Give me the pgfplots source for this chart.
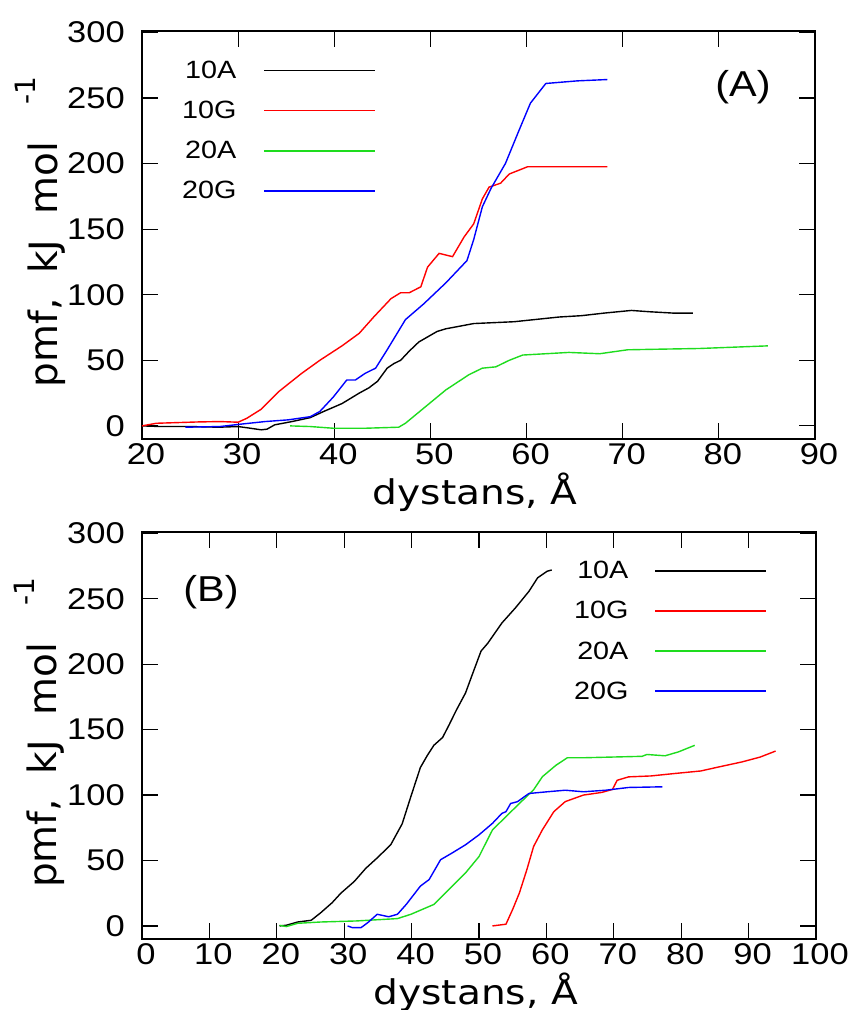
\documentclass[border=0pt]{standalone}
\usepackage{pgfplots}
\pgfplotsset{compat=1.18}
\usepackage{fontspec}
\setmainfont{Liberation Sans}
\newfontfamily\arx{Liberation Sans}[FakeStretch=1.15]
\newfontfamily\djx{DejaVu Sans}[FakeStretch=1.15]
\newfontfamily\djs{DejaVu Sans}
\definecolor{gnured}{RGB}{255,0,0}
\definecolor{gnugreen}{RGB}{30,220,30}
\definecolor{gnublue}{RGB}{0,0,255}

\pgfplotsset{
  myaxis/.style={
    scale only axis,
    anchor=south west,
    ymin=-10, ymax=301,
    ytick={0,50,...,300},
    tick align=inside,
    tick pos=both,
    major tick length=16pt,
    tick style={line width=1.2pt, black},
    axis line style={line width=2.5pt, line join=miter},
    /pgf/number format/assume math mode=true,
    ticklabel style={font=\fontsize{30}{30}\arx},
    xticklabel style={inner sep=0pt, yshift=-4pt, xshift=4pt},
    yticklabel style={inner sep=0pt, xshift=-17pt},
    xlabel={dystans, Å},
    xlabel style={font=\fontsize{34}{34}\djx, inner sep=0pt, at={(axis description cs:0.495,-0.13)}, anchor=center},
    ylabel={pmf,\ \ kJ\ \ mol\ \ \ \raisebox{22pt}{\fontsize{28}{28}\selectfont -1}},
    ylabel style={font=\fontsize{39}{39}\djs, inner sep=0pt, at={(axis description cs:-0.1516,0.507)}, anchor=center},
    legend plot pos=right,
    legend cell align=right,
    legend image code/.code={\draw[##1, line width=1.6pt] (0pt,0pt) -- (111pt,0pt);},
    every axis plot/.append style={line width=1.4pt},
  }
}

\begin{document}
\begin{tikzpicture}

% ---------------- Panel (A) ----------------
\begin{axis}[myaxis,
  at={(142pt,-439pt)},
  width=673pt, height=408pt,
  xmin=20, xmax=90,
  xtick={20,30,...,90},
  legend style={at={(axis description cs:0.3477,0.9265)}, anchor=north east, draw=none, fill=none, inner sep=0pt, outer sep=0pt, row sep=21.2pt, font=\fontsize{25}{25}\arx, nodes={inner sep=0pt}, /tikz/every odd column/.append style={column sep=27pt}},
]
\addplot[black] coordinates {
(20,0) (22,-0.5) (25,-0.5) (28,-1) (30,-0.5) (31,-1.5) (32.4,-3) (33,-2.5) (33.8,0.8)
(35.6,3.3) (37.5,6.3) (38.9,11) (40.8,17) (42.6,25) (43.6,29) (44.5,34) (45,39) (45.5,44)
(46.2,47.5) (46.9,50) (47.8,57) (48.8,64) (50.7,72) (51.6,74) (54.5,78) (58.7,79.4)
(63.4,83) (65.7,84) (68.1,86) (70.9,88) (72.8,87) (75.2,86) (77.3,86)};
\addlegendentry{10A}
\addplot[gnured] coordinates {
(20,0) (21.5,2) (25.8,3) (28.1,3.3) (30,2.8) (30.9,5.8) (32.4,12.7) (34.2,26) (36.6,40)
(38.5,50) (40.8,61) (42.6,70.6) (44.1,83) (45.9,97) (46.9,101.5) (47.8,101.5) (49,106)
(49.7,121) (50.9,131.5) (52.3,129) (53.5,144) (54.5,154) (55.4,173) (56.1,182)
(57.3,185) (58.2,192) (60.1,197.5) (63.4,197.5) (68.4,197.5)};
\addlegendentry{10G}
\addplot[gnugreen] coordinates {
(35.4,0) (37.5,-0.5) (39.9,-1.8) (43.2,-1.8) (46.7,-1) (47.4,2) (49.3,13.5) (51.6,27.4)
(54,39) (55.4,44) (56.8,45) (58.2,50) (59.6,54) (62,55) (64.4,56) (67.6,55) (70.5,58)
(73.3,58.4) (78,59) (85.1,61)};
\addlegendentry{20A}
\addplot[gnublue] coordinates {
(24.5,-1) (28.1,-0.5) (30.5,1.5) (32.8,3.3) (35.2,4.6) (37.5,7) (38.5,11) (39.9,22)
(41.3,35) (42.2,35) (43.2,40) (44.3,44) (45.5,58) (47.4,81) (49.3,93) (51.6,109)
(53.8,126) (54.5,142) (55.4,167) (56.3,181) (57.8,200) (59.2,225) (60.4,246) (62,261)
(65.3,263) (68.4,264)};
\addlegendentry{20G}
\node[font=\fontsize{36}{36}\arx, inner sep=0pt, anchor=center] at (axis description cs:0.893,0.8627) {(A)};
\end{axis}

% ---------------- Panel (B) ----------------
\begin{axis}[myaxis,
  at={(142pt,-939pt)},
  width=674pt, height=407pt,
  xmin=0, xmax=100,
  xtick={0,10,...,100},
  legend style={at={(axis description cs:0.9273,0.9279)}, anchor=north east, draw=none, fill=none, inner sep=0pt, outer sep=0pt, row sep=21.2pt, font=\fontsize{25}{25}\arx, nodes={inner sep=0pt}, /tikz/every odd column/.append style={column sep=26pt}},
]
\addplot[black] coordinates {
(20.4,0) (21.4,0.5) (23.1,3) (25.1,4.3) (26.5,10) (28.2,17.7) (29.5,25) (31.5,34)
(33.2,44) (34.9,52) (36.9,62) (38.6,78) (39.9,99) (41.3,121) (42.3,130) (43.3,138)
(44.6,144) (45.6,154) (46.6,164.5) (48,178) (49,192) (50.3,210) (51.3,216) (53.4,231.5)
(55.4,243) (57.4,255.6) (58.7,266) (60.1,271) (60.8,272)};
\addlegendentry{10A}
\addplot[gnured] coordinates {
(52,0) (54,1.3) (55,12.7) (56,25.3) (57.1,43) (58.1,60.7) (59.4,73.4) (61.1,87.3)
(62.8,95) (65.5,100) (68.2,102) (69.8,104.3) (70.5,111.3) (72.2,113.9) (75.5,114.6)
(78.9,116.4) (82.9,118.4) (85.6,121.5) (89,125.3) (91.7,129) (94,133.6)};
\addlegendentry{10G}
\addplot[gnugreen] coordinates {
(20.4,0.5) (21.4,-0.5) (23.1,2) (26.5,3) (31.8,3.8) (37.9,5.6) (39.9,8.9) (43.3,16.4)
(45.3,26.6) (48,40.5) (50,53) (52,73.4) (54,83.5) (56,93.6) (58.1,104) (59.4,114)
(61.4,122.7) (63.1,128.5) (65.5,128.5) (74.2,129.6) (74.9,131) (77.6,130) (79.6,133) (82,138)};
\addlegendentry{20A}
\addplot[gnublue] coordinates {
(30.5,0) (31.2,-1.3) (32.5,-1.3) (33.5,2.5) (34.9,8.9) (36.6,7) (37.9,8.9) (39.2,16.4)
(41.3,30.4) (42.6,35.4) (44.3,50.6) (46,55.7) (48,62) (50,69.6) (52,78.4) (53.4,86)
(54,87.3) (54.7,93.6) (55.7,94.9) (57.4,101.2) (60.1,102.5) (62.8,103.7) (65.5,102.5)
(68.8,103.7) (72.2,105.8) (77.2,106.3)};
\addlegendentry{20G}
\node[font=\fontsize{36}{36}\arx, inner sep=0pt, anchor=center] at (axis description cs:0.1024,0.8526) {(B)};
\end{axis}

\pgfresetboundingbox
\path[use as bounding box] (0pt,0pt) rectangle (855pt,-1010pt);
\end{tikzpicture}
\end{document}
